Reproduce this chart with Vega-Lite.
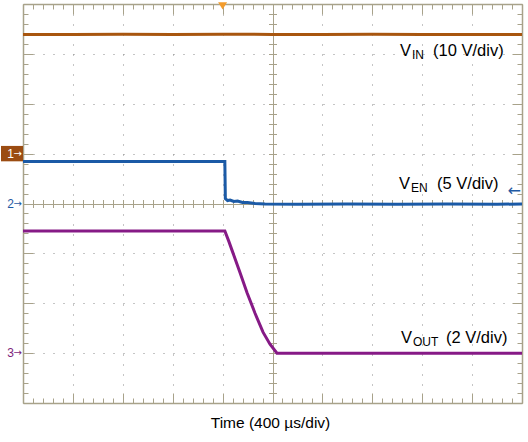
{
  "$schema": "https://vega.github.io/schema/vega-lite/v6.json",
  "width": 499,
  "height": 399,
  "autosize": "none",
  "padding": {"left": 23, "top": 4, "right": 6, "bottom": 39},
  "background": "#ffffff",
  "config": {"view": {"stroke": null}, "font": "Liberation Sans"},
  "datasets": {
    "traces": [
      {"ch": "VIN", "t": 0, "v": 7.39}, {"ch": "VIN", "t": 400, "v": 7.39}, {"ch": "VIN", "t": 800, "v": 7.395}, {"ch": "VIN", "t": 1200, "v": 7.39}, {"ch": "VIN", "t": 1600, "v": 7.395}, {"ch": "VIN", "t": 2000, "v": 7.39}, {"ch": "VIN", "t": 2400, "v": 7.39}, {"ch": "VIN", "t": 2800, "v": 7.395}, {"ch": "VIN", "t": 3200, "v": 7.39}, {"ch": "VIN", "t": 3600, "v": 7.39}, {"ch": "VIN", "t": 4000, "v": 7.39},
      {"ch": "VEN", "t": 0, "v": 4.84}, {"ch": "VEN", "t": 400, "v": 4.84}, {"ch": "VEN", "t": 800, "v": 4.84}, {"ch": "VEN", "t": 1200, "v": 4.84}, {"ch": "VEN", "t": 1618, "v": 4.84}, {"ch": "VEN", "t": 1622, "v": 4.1}, {"ch": "VEN", "t": 1640, "v": 4.06}, {"ch": "VEN", "t": 1660, "v": 4.07}, {"ch": "VEN", "t": 1690, "v": 4.04}, {"ch": "VEN", "t": 1720, "v": 4.05}, {"ch": "VEN", "t": 1760, "v": 4.02}, {"ch": "VEN", "t": 1800, "v": 4.02}, {"ch": "VEN", "t": 1860, "v": 4.0}, {"ch": "VEN", "t": 1940, "v": 3.99}, {"ch": "VEN", "t": 2200, "v": 3.985}, {"ch": "VEN", "t": 2600, "v": 3.99}, {"ch": "VEN", "t": 3000, "v": 3.985}, {"ch": "VEN", "t": 3400, "v": 3.99}, {"ch": "VEN", "t": 3800, "v": 3.985}, {"ch": "VEN", "t": 4000, "v": 3.99},
      {"ch": "VOUT", "t": 0, "v": 3.45}, {"ch": "VOUT", "t": 400, "v": 3.45}, {"ch": "VOUT", "t": 800, "v": 3.45}, {"ch": "VOUT", "t": 1200, "v": 3.45}, {"ch": "VOUT", "t": 1618, "v": 3.45}, {"ch": "VOUT", "t": 1650, "v": 3.24}, {"ch": "VOUT", "t": 1683, "v": 3.01}, {"ch": "VOUT", "t": 1740, "v": 2.61}, {"ch": "VOUT", "t": 1796, "v": 2.21}, {"ch": "VOUT", "t": 1860, "v": 1.8}, {"ch": "VOUT", "t": 1924, "v": 1.42}, {"ch": "VOUT", "t": 1980, "v": 1.18}, {"ch": "VOUT", "t": 2036, "v": 1.0}, {"ch": "VOUT", "t": 2400, "v": 1.0}, {"ch": "VOUT", "t": 2800, "v": 1.0}, {"ch": "VOUT", "t": 3200, "v": 1.0}, {"ch": "VOUT", "t": 3600, "v": 1.0}, {"ch": "VOUT", "t": 4000, "v": 1.0}
    ],
    "labels": [
      {"name": "IN", "scale": "(10 V/div)", "t": 3022, "tScale": 3287, "v": 6.957},
      {"name": "EN", "scale": "(5 V/div)", "t": 3014, "tScale": 3319, "v": 4.291},
      {"name": "OUT", "scale": "(2 V/div)", "t": 3030, "tScale": 3391, "v": 1.193}
    ],
    "markers": [
      {"ch": "1", "v": 5.0}, {"ch": "2", "v": 4.0}, {"ch": "3", "v": 1.0}
    ],
    "trigger": [
      {"t": 1600, "v": 8, "level": 4.257}
    ]
  },
  "layer": [
    {
      "data": {"name": "traces"},
      "transform": [{"filter": "datum.ch === 'VIN'"}],
      "mark": {"type": "line", "color": "#a8560f", "strokeWidth": 3, "clip": true},
      "encoding": {
        "x": {"field": "t", "type": "quantitative", "scale": {"domain": [0, 4000], "nice": false, "zero": false},
          "axis": {"orient": "bottom", "zindex": 0,
            "values": [0,80,160,240,320,400,480,560,640,720,800,880,960,1040,1120,1200,1280,1360,1440,1520,1600,1680,1760,1840,1920,2000,2080,2160,2240,2320,2400,2480,2560,2640,2720,2800,2880,2960,3040,3120,3200,3280,3360,3440,3520,3600,3680,3760,3840,3920,4000],
            "domain": true, "domainColor": "#a8a28a", "domainWidth": 1.5,
            "ticks": true, "tickColor": "#a8a28a", "tickWidth": 1,
            "tickSize": {"condition": {"test": "datum.value % 400 === 0", "value": -10}, "value": -5},
            "labels": false,
            "grid": true, "gridWidth": 1,
            "gridDash": {"condition": {"test": "datum.value === 2000", "value": []}, "value": [1, 9]},
            "gridColor": {"condition": {"test": "datum.value === 2000", "value": "#a8a28a"}, "value": "#8a8a8a"},
            "gridOpacity": {"condition": {"test": "datum.value % 400 === 0 && datum.value > 0 && datum.value < 4000", "value": 1}, "value": 0},
            "title": "Time (400 µs/div)", "titleFont": "Liberation Sans", "titleFontSize": 15.5, "titleFontWeight": "normal", "titleColor": "#000000",
            "titleX": 247, "titleY": 24, "titleBaseline": "alphabetic", "titleAlign": "center", "titleAnchor": null, "titleAngle": 0}},
        "y": {"field": "v", "type": "quantitative", "scale": {"domain": [0, 8], "nice": false, "zero": false},
          "axis": {"orient": "left", "zindex": 0,
            "values": [0,0.2,0.4,0.6,0.8,1,1.2,1.4,1.6,1.8,2,2.2,2.4,2.6,2.8,3,3.2,3.4,3.6,3.8,4,4.2,4.4,4.6,4.8,5,5.2,5.4,5.6,5.8,6,6.2,6.4,6.6,6.8,7,7.2,7.4,7.6,7.8,8],
            "domain": true, "domainColor": "#a8a28a", "domainWidth": 1.5,
            "ticks": true, "tickColor": "#a8a28a", "tickWidth": 1,
            "tickSize": {"condition": {"test": "abs(datum.value - round(datum.value)) < 0.01", "value": -10}, "value": -5},
            "labels": false,
            "grid": true, "gridWidth": 1,
            "gridDash": {"condition": {"test": "abs(datum.value - 4) < 0.01", "value": []}, "value": [1, 9]},
            "gridColor": {"condition": {"test": "abs(datum.value - 4) < 0.01", "value": "#a8a28a"}, "value": "#8a8a8a"},
            "gridOpacity": {"condition": {"test": "abs(datum.value - round(datum.value)) < 0.01 && datum.value > 0.5 && datum.value < 7.5", "value": 1}, "value": 0},
            "title": null}}
      }
    },
    {
      "data": {"name": "traces"},
      "transform": [{"filter": "datum.ch === 'VEN'"}],
      "mark": {"type": "line", "color": "#1b5aa6", "strokeWidth": 3, "clip": true},
      "encoding": {
        "x": {"field": "t", "type": "quantitative", "scale": {"domain": [0, 4000], "nice": false, "zero": false},
          "axis": {"orient": "top", "zindex": 0,
            "values": [0,80,160,240,320,400,480,560,640,720,800,880,960,1040,1120,1200,1280,1360,1440,1520,1600,1680,1760,1840,1920,2000,2080,2160,2240,2320,2400,2480,2560,2640,2720,2800,2880,2960,3040,3120,3200,3280,3360,3440,3520,3600,3680,3760,3840,3920,4000],
            "domain": true, "domainColor": "#a8a28a", "domainWidth": 1.5,
            "ticks": true, "tickColor": "#a8a28a", "tickWidth": 1,
            "tickSize": {"condition": {"test": "datum.value % 400 === 0", "value": -10}, "value": -5},
            "labels": false, "grid": false, "title": null}},
        "y": {"field": "v", "type": "quantitative", "scale": {"domain": [0, 8], "nice": false, "zero": false},
          "axis": {"orient": "right", "zindex": 0,
            "values": [0,0.2,0.4,0.6,0.8,1,1.2,1.4,1.6,1.8,2,2.2,2.4,2.6,2.8,3,3.2,3.4,3.6,3.8,4,4.2,4.4,4.6,4.8,5,5.2,5.4,5.6,5.8,6,6.2,6.4,6.6,6.8,7,7.2,7.4,7.6,7.8,8],
            "domain": true, "domainColor": "#a8a28a", "domainWidth": 1.5,
            "ticks": true, "tickColor": "#a8a28a", "tickWidth": 1,
            "tickSize": {"condition": {"test": "abs(datum.value - round(datum.value)) < 0.01", "value": -10}, "value": -5},
            "labels": false, "grid": false, "title": null}}
      }
    },
    {
      "data": {"name": "traces"},
      "transform": [{"filter": "datum.ch === 'VOUT'"}],
      "mark": {"type": "line", "color": "#861a86", "strokeWidth": 3, "clip": true},
      "encoding": {
        "x": {"field": "t", "type": "quantitative", "scale": {"domain": [0, 4000], "nice": false, "zero": false},
          "axis": {"orient": "bottom", "offset": -203.5, "zindex": 0,
            "values": [0,80,160,240,320,400,480,560,640,720,800,880,960,1040,1120,1200,1280,1360,1440,1520,1600,1680,1760,1840,1920,2000,2080,2160,2240,2320,2400,2480,2560,2640,2720,2800,2880,2960,3040,3120,3200,3280,3360,3440,3520,3600,3680,3760,3840,3920,4000],
            "domain": false, "ticks": true, "tickColor": "#a8a28a", "tickWidth": 1, "tickSize": 8,
            "labels": false, "grid": false, "title": null}},
        "y": {"field": "v", "type": "quantitative", "scale": {"domain": [0, 8], "nice": false, "zero": false},
          "axis": {"orient": "left", "offset": -253.5, "zindex": 0,
            "values": [0,0.2,0.4,0.6,0.8,1,1.2,1.4,1.6,1.8,2,2.2,2.4,2.6,2.8,3,3.2,3.4,3.6,3.8,4,4.2,4.4,4.6,4.8,5,5.2,5.4,5.6,5.8,6,6.2,6.4,6.6,6.8,7,7.2,7.4,7.6,7.8,8],
            "domain": false, "ticks": true, "tickColor": "#a8a28a", "tickWidth": 1, "tickSize": 8,
            "labels": false, "grid": false, "title": null}}
      }
    },
    {
      "data": {"name": "labels"},
      "mark": {"type": "text", "text": "V", "align": "left", "baseline": "alphabetic", "font": "Liberation Sans", "fontSize": 16.5, "color": "#000000", "clip": false},
      "encoding": {
        "x": {"field": "t", "type": "quantitative", "scale": {"domain": [0, 4000], "nice": false, "zero": false}, "axis": null},
        "y": {"field": "v", "type": "quantitative", "scale": {"domain": [0, 8], "nice": false, "zero": false}, "axis": null}
      }
    },
    {
      "data": {"name": "labels"},
      "mark": {"type": "text", "align": "left", "baseline": "alphabetic", "font": "Liberation Sans", "fontSize": 12, "dx": 12, "dy": 3, "color": "#000000", "clip": false},
      "encoding": {
        "x": {"field": "t", "type": "quantitative", "scale": {"domain": [0, 4000], "nice": false, "zero": false}, "axis": null},
        "y": {"field": "v", "type": "quantitative", "scale": {"domain": [0, 8], "nice": false, "zero": false}, "axis": null},
        "text": {"field": "name"}
      }
    },
    {
      "data": {"name": "labels"},
      "mark": {"type": "text", "align": "left", "baseline": "alphabetic", "font": "Liberation Sans", "fontSize": 16.5, "color": "#000000", "clip": false},
      "encoding": {
        "x": {"field": "tScale", "type": "quantitative", "scale": {"domain": [0, 4000], "nice": false, "zero": false}, "axis": null},
        "y": {"field": "v", "type": "quantitative", "scale": {"domain": [0, 8], "nice": false, "zero": false}, "axis": null},
        "text": {"field": "scale"}
      }
    },
    {
      "data": {"name": "markers"},
      "transform": [{"filter": "datum.ch === '1'"}],
      "mark": {"type": "point", "shape": "M-2,-0.7 L0,-0.7 L0,0.7 L-2,0.7 Z", "size": 484, "filled": true, "color": "#9b4c12", "opacity": 1, "strokeWidth": 0, "clip": false},
      "encoding": {
        "x": {"datum": 0, "type": "quantitative", "scale": {"domain": [0, 4000], "nice": false, "zero": false}, "axis": null},
        "y": {"field": "v", "type": "quantitative", "scale": {"domain": [0, 8], "nice": false, "zero": false}, "axis": null}
      }
    },
    {
      "data": {"name": "markers"},
      "mark": {"type": "text", "align": "center", "baseline": "middle", "font": "Liberation Sans", "fontSize": 12, "dx": -12.5, "clip": false},
      "encoding": {
        "x": {"datum": 0, "type": "quantitative", "scale": {"domain": [0, 4000], "nice": false, "zero": false}, "axis": null},
        "y": {"field": "v", "type": "quantitative", "scale": {"domain": [0, 8], "nice": false, "zero": false}, "axis": null},
        "text": {"field": "ch"},
        "color": {"field": "ch", "type": "nominal", "scale": {"domain": ["1", "2", "3"], "range": ["#ffffff", "#1f5aa3", "#7d1f7d"]}, "legend": null}
      }
    },
    {
      "data": {"name": "markers"},
      "mark": {"type": "text", "text": "→", "align": "right", "baseline": "middle", "font": "DejaVu Sans", "fontSize": 10, "dx": -1, "clip": false},
      "encoding": {
        "x": {"datum": 0, "type": "quantitative", "scale": {"domain": [0, 4000], "nice": false, "zero": false}, "axis": null},
        "y": {"field": "v", "type": "quantitative", "scale": {"domain": [0, 8], "nice": false, "zero": false}, "axis": null},
        "color": {"field": "ch", "type": "nominal", "scale": {"domain": ["1", "2", "3"], "range": ["#ffffff", "#1f5aa3", "#7d1f7d"]}, "legend": null}
      }
    },
    {
      "data": {"name": "trigger"},
      "mark": {"type": "point", "shape": "M-1,-0.4 L1,-0.4 L0,1.2 Z", "size": 81, "filled": true, "color": "#f39c2d", "opacity": 1, "strokeWidth": 0, "clip": false},
      "encoding": {
        "x": {"field": "t", "type": "quantitative", "scale": {"domain": [0, 4000], "nice": false, "zero": false}, "axis": null},
        "y": {"field": "v", "type": "quantitative", "scale": {"domain": [0, 8], "nice": false, "zero": false}, "axis": null}
      }
    },
    {
      "data": {"name": "trigger"},
      "mark": {"type": "text", "text": "←", "align": "right", "baseline": "middle", "font": "DejaVu Sans", "fontSize": 16, "dx": -1, "color": "#1f5aa3", "clip": false},
      "encoding": {
        "x": {"datum": 4000, "type": "quantitative", "scale": {"domain": [0, 4000], "nice": false, "zero": false}, "axis": null},
        "y": {"field": "level", "type": "quantitative", "scale": {"domain": [0, 8], "nice": false, "zero": false}, "axis": null}
      }
    }
  ],
  "resolve": {"axis": {"x": "independent", "y": "independent"}}
}
